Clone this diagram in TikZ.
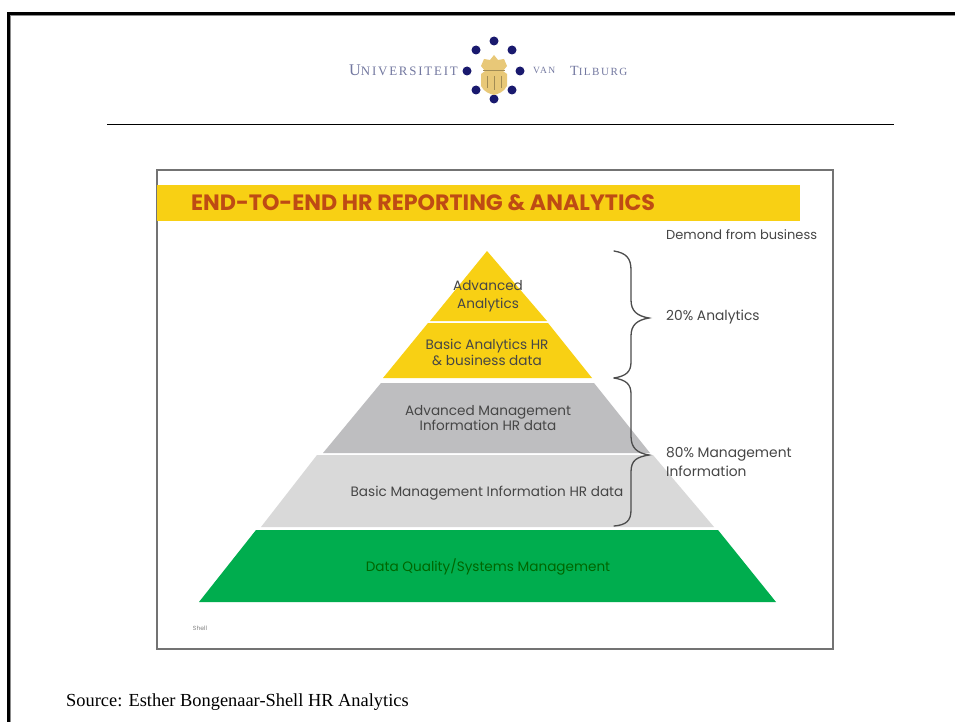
\documentclass[tikz,border=0pt]{standalone}
\usepackage{fontspec}
\setmainfont{Liberation Serif}
\newfontfamily\slidesans{Poppins}
\newfontfamily\logofont[LetterSpace=14]{Liberation Serif}
\definecolor{shellyellow}{RGB}{248,208,20}
\definecolor{titlered}{RGB}{190,75,20}
\definecolor{greyA}{RGB}{190,190,192}
\definecolor{greyB}{RGB}{217,217,217}
\definecolor{shellgreen}{RGB}{0,173,78}
\definecolor{logoblue}{RGB}{25,25,110}
\definecolor{logogold}{RGB}{232,200,120}
\definecolor{logogrey}{RGB}{115,120,160}
\definecolor{inktext}{RGB}{70,70,70}
\tikzset{
  framed/.style={draw=black,line width=3pt},
  slidebox/.style={draw=black!55,line width=2pt,fill=white},
  tier/.style={draw=none},
  label/.style={font=\slidesans\fontsize{13.6}{14.5}\selectfont,text=inktext,align=center,inner sep=0pt},
  sidelabel/.style={font=\slidesans\fontsize{13.8}{19}\selectfont,text=inktext,align=left,anchor=west,inner sep=0pt},
  bracepath/.style={draw=black!70,line width=1.3pt,line cap=round},
  logodot/.style={circle,fill=logoblue,minimum size=9pt,inner sep=0pt},
  logotext/.style={font=\logofont,text=logogrey,inner sep=0pt}
}
\begin{document}
\begin{tikzpicture}[x=1pt,y=-1pt]
\useasboundingbox (0,0) rectangle (955,722);
\fill[white] (0,0) rectangle (955,722);
% outer frame
\draw[black!45,line width=1pt] (10.5,722) -- (10.5,15.5) -- (955,15.5);
\draw[framed] (8.5,722) -- (8.5,13.5) -- (955,13.5);
% logo
\node[logotext,anchor=east] (uni) at (458,70.5) {\fontsize{16.3}{18}\selectfont U\fontsize{12.9}{18}\selectfont NIVERSITEIT};
\node[logotext,anchor=west] (van) at (533,70.5) {\fontsize{9.5}{12}\selectfont VAN};
\node[logotext,anchor=west] (til) at (570,70.5) {\fontsize{14}{16}\selectfont T\fontsize{11}{16}\selectfont ILBURG};
\foreach \n/\a/\b in {a/494/41,b/476/50,c/512/50,d/467/71,e/520/71,f/476/90,g/512/90,h/494/99}
  \node[logodot] (\n) at (\a,\b) {};
\fill[logogold] (494,55) -- (498,60) -- (504,59) -- (507,66) -- (503,71) -- (507,74) -- (507,86) .. controls (504,92) and (498,94) .. (494,95) .. controls (490,94) and (484,92) .. (481,86) -- (481,74) -- (485,71) -- (481,66) -- (484,59) -- (490,60) -- cycle;
\draw[logogold!70!black,line width=.7pt] (487,76) -- (487,88) (494,76) -- (494,90) (501,76) -- (501,88) (483,70) -- (505,70);
% rule
\draw[black,line width=1.3pt] (107,124.5) -- (894,124.5);
% inner slide
\draw[slidebox] (157,170) rectangle (833,649);
\fill[shellyellow] (157,185) rectangle (800,221);
\node[font=\slidesans\bfseries\fontsize{22.2}{24}\selectfont,text=titlered,anchor=west,inner sep=0pt] (title) at (191,203) {END-TO-END HR REPORTING \& ANALYTICS};
\node[sidelabel,font=\slidesans\fontsize{13}{15}\selectfont] (demand) at (666,235) {Demond from business};
% pyramid
\fill[shellyellow] (487,251) -- (430,321) -- (547,321) -- cycle;
\fill[shellyellow] (428,323) -- (548,323) -- (592,378) -- (383,378) -- cycle;
\fill[greyA] (381,383) -- (594,383) -- (650,453) -- (323,453) -- cycle;
\fill[greyB] (317,455) -- (653,455) -- (714,527) -- (261,527) -- cycle;
\fill[shellgreen] (256,530) -- (718,530) -- (776,602) -- (199,602) -- cycle;
\node[label,font=\slidesans\fontsize{13.6}{18}\selectfont] (advan) at (488,296) {Advanced\\Analytics};
\node[label,font=\slidesans\fontsize{13.6}{16}\selectfont] (basan) at (487,352) {Basic Analytics HR\\\& business data};
\node[label] (advmi) at (488,418) {Advanced Management\\Information HR data};
\node[label] (basmi) at (487,493) {Basic Management Information HR data};
\node[label,text=green!40!black] (dq) at (488,567) {Data Quality/Systems Management};
% braces
\draw[bracepath] (614,251) .. controls (626,253) and (631,258) .. (631,270) -- (631,300)
  .. controls (631,311) and (637,316) .. (649,318) .. controls (637,320) and (631,325) .. (631,336)
  -- (631,362) .. controls (631,372) and (626,376) .. (614,378);
\draw[bracepath] (614,378) .. controls (626,380) and (631,384) .. (631,394) -- (631,436)
  .. controls (631,448) and (637,453) .. (649,455) .. controls (637,457) and (631,460) .. (631,472)
  -- (631,510) .. controls (631,521) and (626,525) .. (614,526);
\node[sidelabel] (twenty) at (666,317) {20\% Analytics};
\node[sidelabel] (eighty) at (666,461.5) {80\% Management\\Information};
\node[font=\slidesans\fontsize{6}{6}\selectfont,text=black!50,inner sep=0pt] (shell) at (200,628) {Shell};
% source
\node[font=\fontsize{18.4}{20}\selectfont,anchor=west,inner sep=0pt] (source) at (66,702) {Source: Esther Bongenaar-Shell HR Analytics};
\end{tikzpicture}
\end{document}
